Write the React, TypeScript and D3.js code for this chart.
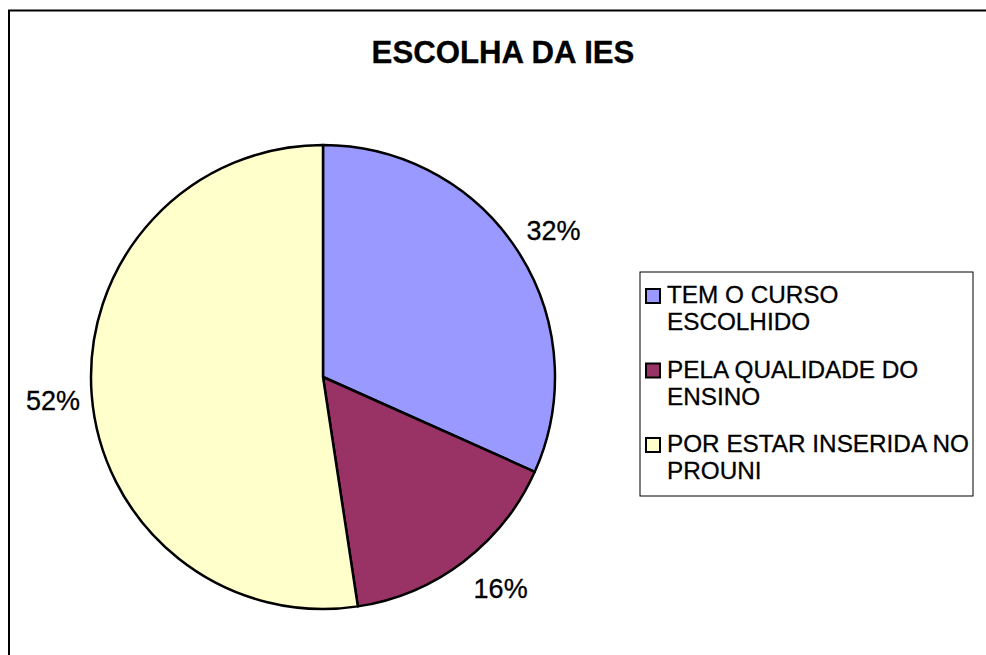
import React from "react";
import * as d3 from "d3";

const title = "ESCOLHA DA IES";
const categories = ["TEM O CURSO ESCOLHIDO", "PELA QUALIDADE DO ENSINO", "POR ESTAR INSERIDA NO PROUNI"];
const legendLines = [["TEM O CURSO", "ESCOLHIDO"], ["PELA QUALIDADE DO", "ENSINO"], ["POR ESTAR INSERIDA NO", "PROUNI"]];
const values = [31.7, 15.9, 52.4];
const colors = ["#9999FF", "#993366", "#FFFFCC"];

// label placement tweaks (layout only)
const labelNudgeDeg = [0.5, -2.8, -0.6];
const labelRadii = [273, 276, 271];

const W = 986;
const H = 655;
const FONT = "'Liberation Sans', Arial, sans-serif";

export default function App() {
  const cx = 323;
  const cy = 377;
  const r = 232;
  const total = d3.sum(values);
  const pie = d3.pie<number>().sort(null).value((d) => d)(values);
  const arc = d3.arc<d3.PieArcDatum<number>>().innerRadius(0).outerRadius(r);

  return (
    <svg width={W} height={H} style={{ position: "absolute", left: 0, top: 0, background: "#fff" }}>
      <rect x={0} y={0} width={W} height={H} fill="#fff" />
      <rect x={9} y={10.5} width={1000} height={700} fill="none" stroke="#000" strokeWidth={2} />
      <text x={503} y={63} textAnchor="middle" fontFamily={FONT} fontWeight="bold" fontSize={31.2} fill="#000" stroke="#000" strokeWidth={0.3}>
        {title}
      </text>
      <g transform={`translate(${cx},${cy})`}>
        {pie.map((p, i) => (
          <path key={categories[i]} d={arc(p) || ""} fill={colors[i]} stroke="#000" strokeWidth={2.5} strokeLinejoin="round" />
        ))}
        {pie.map((p, i) => {
          const a = (p.startAngle + p.endAngle) / 2 + (labelNudgeDeg[i] * Math.PI) / 180;
          const x = Math.sin(a) * labelRadii[i];
          const y = -Math.cos(a) * labelRadii[i];
          return (
            <text key={"l" + i} x={x} y={y + 9.5} textAnchor="middle" fontFamily={FONT} fontSize={27} fill="#000" stroke="#000" strokeWidth={0.3}>
              {Math.round((values[i] / total) * 100) + "%"}
            </text>
          );
        })}
      </g>
      <rect x={640} y={272} width={333} height={224} fill="#fff" stroke="#000" strokeWidth={1} />
      {legendLines.map((lines, i) => {
        const base = 303 + i * 74.5;
        return (
          <g key={"lg" + i}>
            <rect x={646} y={base - 14} width={14} height={14} fill={colors[i]} stroke="#000" strokeWidth={2} />
            {lines.map((t, j) => (
              <text key={j} x={667} y={base + j * 27} fontFamily={FONT} fontSize={24.3} fill="#000" stroke="#000" strokeWidth={0.3}>
                {t}
              </text>
            ))}
          </g>
        );
      })}
    </svg>
  );
}
